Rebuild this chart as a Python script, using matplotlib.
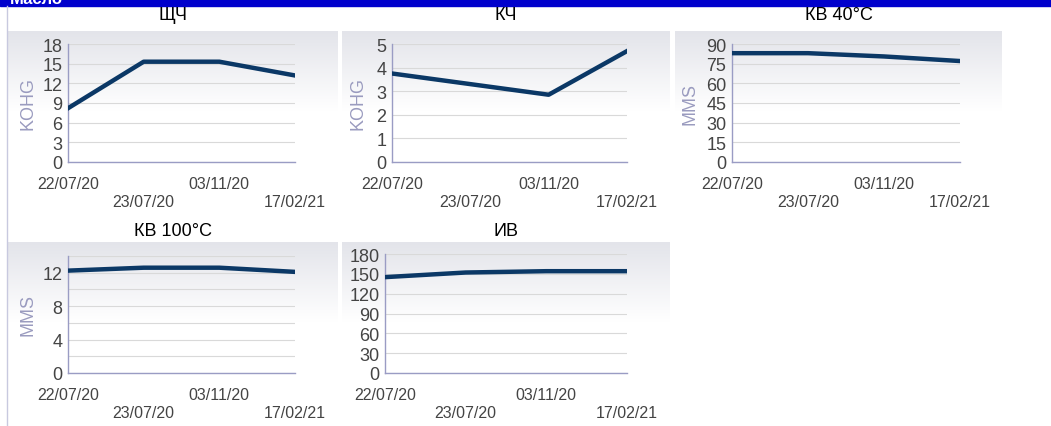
import numpy as np
import matplotlib.pyplot as plt
from matplotlib.colors import LinearSegmentedColormap
from matplotlib.lines import Line2D

plt.rcParams['font.family'] = ['Liberation Sans', 'DejaVu Sans']

dates = ['22/07/20', '23/07/20', '03/11/20', '17/02/21']
shch = [8.2, 15.3, 15.3, 13.2]
kch = [3.75, 3.3, 2.85, 4.7]
kv40 = [83, 83, 80.5, 77]
kv100 = [12.25, 12.6, 12.6, 12.1]
iv = [145, 152, 154, 154]

W, H = 1051, 427
fig = plt.figure(figsize=(W / 100, H / 100), dpi=100)
fig.patch.set_facecolor('white')


def rect(l, t, r, b):
    return [l / W, 1 - b / H, (r - l) / W, (b - t) / H]


# header bar and left border
fig.add_artist(plt.Rectangle((0, 1 - 7 / H), 1, 7 / H, transform=fig.transFigure,
                             color='#0000cc', zorder=0))
fig.text(10 / W, 1 - 4 / H, 'Масло', color='white', fontsize=12, fontweight='bold',
         va='baseline')
fig.add_artist(Line2D([7 / W, 7 / W], [0, 1 - 7 / H], transform=fig.transFigure,
                      color='#c8c9df', lw=1))

grad = LinearSegmentedColormap.from_list('g', ['#e3e4ea', '#ffffff'])
line_col = '#0b3866'
axis_col = '#9a9cc4'

panels = [
    # title, unit, values, ymax, label step, grid step, panel box, plot box, ylabel x, title y
    ('ЩЧ', 'KOHG', shch, 18, 3, 3, (8, 338, 32), (68, 45, 295, 163), 28, 16),
    ('КЧ', 'KOHG', kch, 5, 1, 1, (342, 670, 32), (392, 45, 627, 163), 358, 16),
    ('КВ 40°C', 'MMS', kv40, 90, 15, 15, (675, 1002, 32), (732, 45, 960, 163), 690, 16),
    ('КВ 100°C', 'MMS', kv100, 14, 4, 2, (8, 338, 243), (68, 257, 295, 374), 28, 232),
    ('ИВ', '', iv, 180, 30, 30, (342, 670, 243), (385, 255, 627, 374), 0, 232),
]

x = np.arange(len(dates))

for title, unit, vals, ymax, step, gstep, pbox, abox, ylx, ty in panels:
    # background gradient
    bg = fig.add_axes(rect(pbox[0], pbox[2], pbox[1], pbox[2] + 80), zorder=0)
    bg.imshow(np.linspace(0, 1, 100).reshape(-1, 1), aspect='auto', cmap=grad,
              extent=(0, 1, 0, 1))
    bg.axis('off')

    ax = fig.add_axes(rect(*abox), zorder=1)
    ax.patch.set_alpha(0)
    ax.plot(x, vals, color=line_col, lw=3.2, solid_joinstyle='round', zorder=3)
    ax.set_xlim(0, 3)
    ax.set_ylim(0, ymax)
    ax.set_yticks(np.arange(0, ymax + 0.01, step))
    ax.set_yticks(np.arange(0, ymax + 0.01, gstep), minor=True)
    ax.grid(True, axis='y', which='both', color='#d9d9d9', lw=0.8)
    ax.set_axisbelow(True)
    ax.tick_params(axis='y', which='both', length=0, pad=4, labelsize=13,
                   labelcolor='#444444')
    ax.set_xticks([])
    for s in ['top', 'right']:
        ax.spines[s].set_visible(False)
    for s in ['left', 'bottom']:
        ax.spines[s].set_color(axis_col)
        ax.spines[s].set_linewidth(1)

    for i, d in enumerate(dates):
        off = -22 if i % 2 == 0 else -40
        ax.annotate(d, xy=(i, 0), xycoords=('data', 'axes fraction'),
                    xytext=(0, off * 0.72), textcoords='offset points',
                    ha='center', va='center', fontsize=11.5, color='#444444')

    cx = (pbox[0] + pbox[1]) / 2
    fig.text(cx / W, 1 - ty / H, title, ha='center', va='center', fontsize=13,
             color='black')
    if unit:
        cy = (abox[1] + abox[3]) / 2
        fig.text(ylx / W, 1 - cy / H, unit, rotation=90, ha='center', va='center',
                 fontsize=13, color='#9a9bbf')

fig.savefig('out.png', dpi=100)
